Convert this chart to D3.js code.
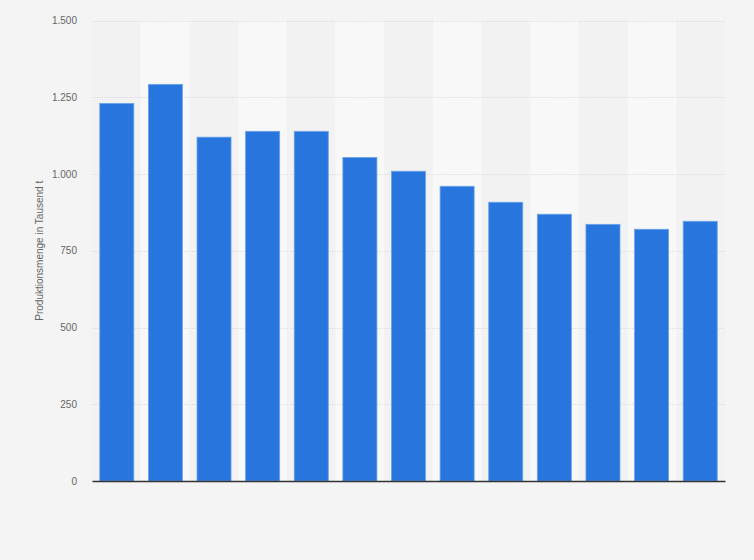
<!DOCTYPE html>
<html>
<head>
<meta charset="utf-8">
<script src="https://cdn.jsdelivr.net/npm/d3@7"></script>
<style>
  html, body { margin: 0; padding: 0; background: #f4f4f4; }
  svg { display: block; font-family: "Liberation Sans", Arial, sans-serif; }
</style>
</head>
<body>
<svg id="chart" width="754" height="560"></svg>
<script>
const categories = ["2008","2009","2010","2011","2012","2013","2014","2015","2016","2017","2018","2019","2020"];
const values = [1230, 1292, 1120, 1139, 1139, 1054, 1009, 960, 908, 869, 836, 820, 846];
const yTicks = [0, 250, 500, 750, 1000, 1250, 1500];
const yLabel = "Produktionsmenge in Tausend t";

const svg = d3.select("#chart");
const margin = {left: 92, right: 29, top: 20.5, bottom: 79};
const W = 754, H = 560;
const x = d3.scaleBand().domain(categories).range([margin.left, W - margin.right]).paddingInner(0.3).paddingOuter(0.16);
const xb = d3.scaleBand().domain(categories).range([margin.left, W - margin.right]).padding(0);
const y = d3.scaleLinear().domain([0, 1500]).range([H - margin.bottom, margin.top]);
const fmt = d3.formatLocale({decimal: ",", thousands: ".", grouping: [3], currency: ["", "€"]}).format(",d");

svg.append("rect").attr("width", W).attr("height", H).attr("fill", "#f4f4f4");

// alternating column bands
svg.append("g").selectAll("rect").data(categories).join("rect")
  .attr("x", d => xb(d))
  .attr("width", xb.bandwidth())
  .attr("y", y(1500))
  .attr("height", y(0) - y(1500))
  .attr("fill", (d, i) => i % 2 === 0 ? "#f2f2f2" : "#f8f8f8");

// y axis labels
const yAxis = d3.axisLeft(y).tickValues(yTicks).tickFormat(fmt).tickSize(0).tickPadding(15);
const gy = svg.append("g").attr("transform", `translate(${margin.left},0)`).call(yAxis);
gy.select(".domain").remove();
gy.selectAll("text").attr("fill", "#666").attr("font-size", 10);

// grid
svg.append("g").selectAll("line").data(yTicks.filter(t => t > 0)).join("line")
  .attr("x1", margin.left).attr("x2", W - margin.right)
  .attr("y1", d => Math.round(y(d)) + 0.5).attr("y2", d => Math.round(y(d)) + 0.5)
  .attr("stroke", "#d6d6d6").attr("stroke-width", 1).attr("stroke-dasharray", "1,1.5");

// bars
svg.append("g").selectAll("rect").data(values).join("rect")
  .attr("x", (d, i) => x(categories[i]))
  .attr("width", x.bandwidth())
  .attr("y", d => y(d))
  .attr("height", d => y(0) - y(d))
  .attr("fill", "#2876dd")
  .attr("stroke", "#6aa3ea")
  .attr("stroke-width", 0.8);

// x axis line
const xAxis = d3.axisBottom(xb).tickSize(0).tickFormat("");
const gx = svg.append("g").attr("transform", `translate(0,${y(0)})`).call(xAxis);
gx.select(".domain").attr("stroke", "#333").attr("stroke-width", 1.3);

// y label
svg.append("text")
  .attr("transform", `translate(43,${(y(0) + y(1500)) / 2}) rotate(-90)`)
  .attr("text-anchor", "middle")
  .attr("fill", "#666")
  .attr("font-size", 10)
  .text(yLabel);
</script>
</body>
</html>
